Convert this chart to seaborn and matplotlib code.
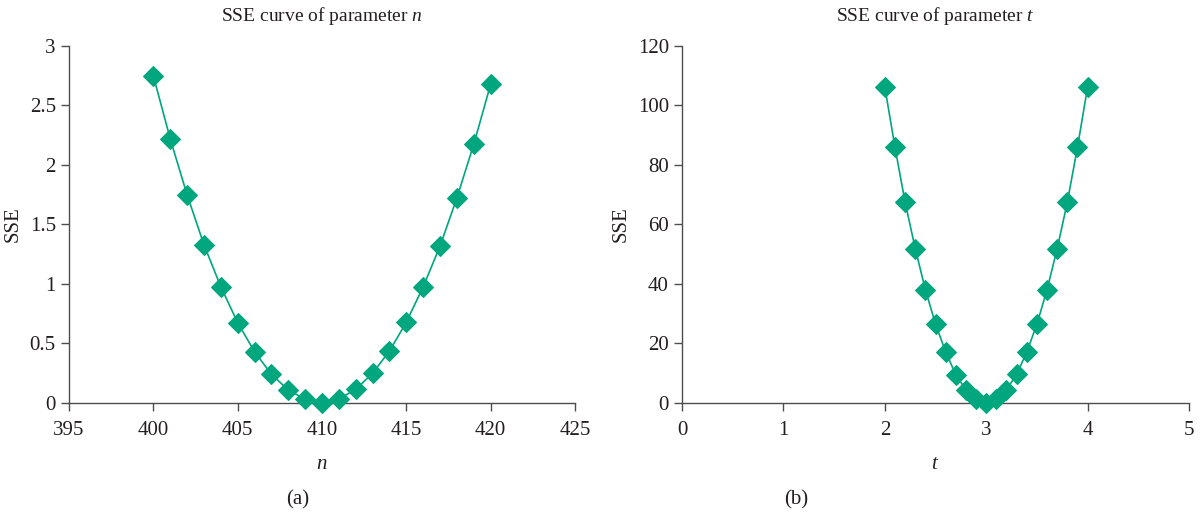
import numpy as np
import pandas as pd
import matplotlib
matplotlib.use("Agg")
import matplotlib.pyplot as plt
import seaborn as sns

# Data
n_values = [400, 401, 402, 403, 404, 405, 406, 407, 408, 409, 410,
            411, 412, 413, 414, 415, 416, 417, 418, 419, 420]
sse_n = [2.75, 2.22, 1.75, 1.33, 0.977, 0.675, 0.431, 0.241, 0.109, 0.031, 0.0,
         0.033, 0.115, 0.25, 0.437, 0.68, 0.977, 1.32, 1.725, 2.176, 2.68]
t_values = [2.0, 2.1, 2.2, 2.3, 2.4, 2.5, 2.6, 2.7, 2.8, 2.9, 3.0,
            3.1, 3.2, 3.3, 3.4, 3.5, 3.6, 3.7, 3.8, 3.9, 4.0]
sse_t = [106.2, 86.0, 67.5, 51.9, 38.1, 26.5, 17.2, 9.5, 4.4, 1.4, 0.0,
         1.4, 4.5, 9.6, 17.1, 26.5, 38.1, 51.9, 67.5, 86.0, 106.2]

n_ticks = [395, 400, 405, 410, 415, 420, 425]
n_yticks = [0, 0.5, 1, 1.5, 2, 2.5, 3]
n_yticklabels = ["0", "0.5", "1", "1.5", "2", "2.5", "3"]
t_ticks = [0, 1, 2, 3, 4, 5]
t_yticks = [0, 20, 40, 60, 80, 100, 120]

sns.set_theme(style="ticks")
plt.rcParams['font.family'] = ['Liberation Serif', 'DejaVu Serif']
plt.rcParams['mathtext.fontset'] = 'custom'
plt.rcParams['mathtext.it'] = 'Liberation Serif:italic'
plt.rcParams['mathtext.rm'] = 'Liberation Serif'

color = "#00A67E"
txt = "#231f20"
spine_c = "#4d4d4d"

fig = plt.figure(figsize=(12.02, 5.15), dpi=100)
ax1 = fig.add_axes([0.0574, 0.2175, 0.421, 0.6932])
ax2 = fig.add_axes([0.5674, 0.2175, 0.4218, 0.6932])

df_n = pd.DataFrame({"n": n_values, "SSE": sse_n})
df_t = pd.DataFrame({"t": t_values, "SSE": sse_t})

for ax, df, xcol in [(ax1, df_n, "n"), (ax2, df_t, "t")]:
    sns.lineplot(data=df, x=xcol, y="SSE", ax=ax, color=color, linewidth=1.2,
                 marker="D", markersize=10.5, markeredgecolor=color, markerfacecolor=color,
                 clip_on=False, zorder=3)

ax1.set_xlim(395, 425)
ax1.set_ylim(0, 3)
ax1.set_xticks(n_ticks)
ax1.set_yticks(n_yticks)
ax1.set_yticklabels(n_yticklabels)
ax1.set_title("SSE curve of parameter $\\mathit{n}$", fontsize=14, color=txt, pad=18)
ax1.set_xlabel("$\\mathit{n}$", fontsize=15, color=txt, labelpad=11)
ax1.set_ylabel("SSE", fontsize=15, color=txt, labelpad=5)

ax2.set_xlim(0, 5)
ax2.set_ylim(0, 120)
ax2.set_xticks(t_ticks)
ax2.set_yticks(t_yticks)
ax2.set_title("SSE curve of parameter $\\mathit{t}$", fontsize=14, color=txt, pad=18)
ax2.set_xlabel("$\\mathit{t}$", fontsize=15, color=txt, labelpad=11)
ax2.set_ylabel("SSE", fontsize=15, color=txt, labelpad=5)

for ax in (ax1, ax2):
    sns.despine(ax=ax)
    for s in ("left", "bottom"):
        ax.spines[s].set_color(spine_c)
        ax.spines[s].set_linewidth(1.0)
    ax.tick_params(axis="both", colors=spine_c, labelcolor=txt, labelsize=15,
                   direction="out", length=6, width=1.0)
    ax.tick_params(axis="x", pad=7)

fig.text(0.248, 0.03, "(a)", ha="center", va="center", fontsize=15, color=txt)
fig.text(0.6625, 0.03, "(b)", ha="center", va="center", fontsize=15, color=txt)

fig.savefig("out.png", dpi=100, facecolor="white")
